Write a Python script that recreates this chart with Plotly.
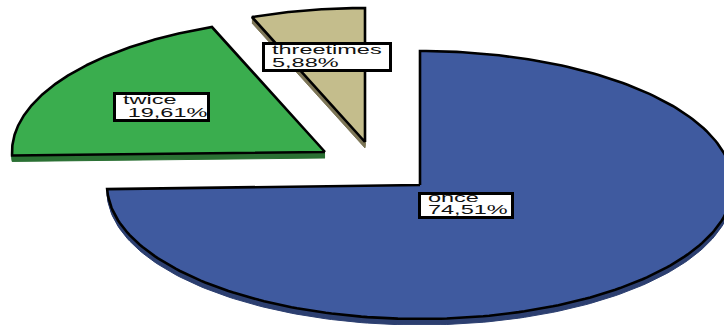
import json

import numpy as np
import plotly.graph_objects as go

# Share of answers per category, in percent
categories = ["once", "twice", "threetimes"]
percentages = [74.51, 19.61, 5.88]

# Exploded-pie styling: apex of each wedge, face and side colours
apex_x = [420, 325, 365]
apex_y = [185, 152, 142]
face_colors = ["#3F5A9F", "#3AAD4E", "#C4BD8C"]
side_colors = ["#2C3F70", "#2A7033", "#7D7657"]
label_boxes = [(418, 514, 192, 219), (113, 210, 92, 122), (262, 392, 42, 72)]
label_indent = ["", "\u2009", ""]
first_baseline = [8.5, 10.5, 10.5]
line_gap = [12.5, 13.5, 13]

RX, RY = 313, 134
DEPTH = 6
BORDER = 3
FONT_PX = 12.5
TEXT_STRETCH = 1.88


def wedge(cx, cy, start, sweep):
    """Outline of a slice on a flattened (elliptical) pie, clockwise from 12 o'clock."""
    t = np.radians(np.linspace(start, start + sweep, 240))
    xs = np.concatenate([[cx], cx + RX * np.sin(t), [cx]])
    ys = np.concatenate([[cy], cy - RY * np.cos(t), [cy]])
    return xs, ys


fig = go.Figure()
annotations = []
start = 0.0
for i, name in enumerate(categories):
    sweep = percentages[i] * 3.6
    xs, ys = wedge(apex_x[i], apex_y[i], start, sweep)

    # Extruded side: stacked copies of the face pushed downwards
    for d in np.linspace(1, DEPTH, DEPTH):
        fig.add_trace(go.Scatter(
            x=xs, y=ys + d, mode="lines", fill="toself", fillcolor=side_colors[i],
            line=dict(color=side_colors[i], width=1), hoverinfo="skip", showlegend=False,
        ))
    # Top face with its black outline
    fig.add_trace(go.Scatter(
        x=xs, y=ys, mode="lines", fill="toself", fillcolor=face_colors[i],
        line=dict(color="#000000", width=2.6), name=name, showlegend=False,
    ))

    x0, x1, y0, y1 = label_boxes[i]
    value_text = f"{percentages[i]:.2f}".replace(".", ",") + "%"
    annotations.append(dict(
        x=x0, y=y0, xref="x", yref="y", xanchor="left", yanchor="top",
        text=f"{name}<br>{label_indent[i]}{value_text}", align="left", showarrow=False,
        width=x1 - x0 - 2 * BORDER, height=y1 - y0 - 2 * BORDER,
        borderpad=0, borderwidth=BORDER,
        bordercolor="#000000", bgcolor="#FFFFFF",
        font=dict(family="Liberation Sans", size=FONT_PX, color="#111111"),
    ))
    start += sweep

fig.update_layout(
    width=724, height=325, autosize=False,
    margin=dict(l=0, r=0, t=0, b=0),
    paper_bgcolor="#FFFFFF", plot_bgcolor="#FFFFFF",
    xaxis=dict(range=[0, 724], visible=False, fixedrange=True),
    yaxis=dict(range=[325, 0], visible=False, fixedrange=True),
    annotations=annotations,
)

# Place each label's lines inside its box and widen the glyphs from the left edge
widen_labels = """
var firstBaseline = %s, lineGap = %s, stretch = %s;
document.querySelectorAll('.annotation-text').forEach(function (t, k) {
  var box = t.parentNode.querySelector('rect.bg').getBBox();
  var x0 = box.x + 8.5;
  t.querySelectorAll('tspan.line').forEach(function (s, n) {
    s.removeAttribute('dy');
    s.setAttribute('x', x0);
    s.setAttribute('y', box.y + firstBaseline[k] + n * lineGap[k]);
  });
  t.setAttribute('transform', 'translate(' + x0 + ',0) scale(' + stretch + ',1) translate(' + (-x0) + ',0)');
});
""" % (json.dumps(first_baseline), json.dumps(line_gap), TEXT_STRETCH)

fig.write_html("out.html", post_script=widen_labels, config={"displayModeBar": False})
